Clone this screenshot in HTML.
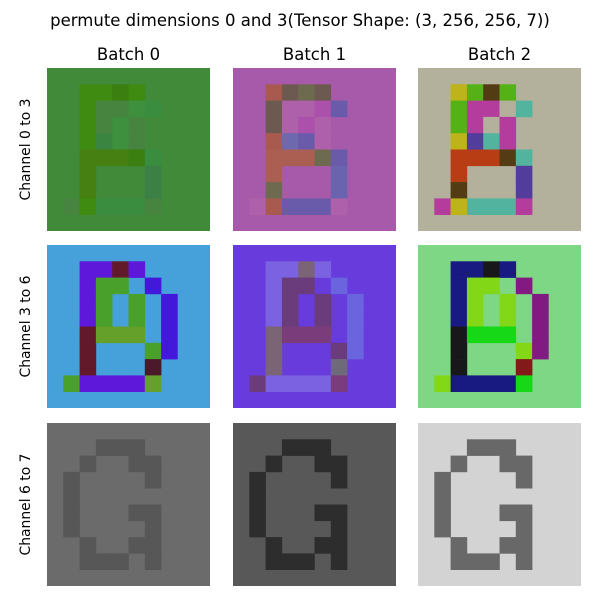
<!DOCTYPE html>
<html><head><meta charset="utf-8"><style>
body{margin:0;background:#fff;}
svg{display:block;font-family:"DejaVu Sans","Liberation Sans",sans-serif;}
</style></head><body>
<svg id="fig" width="600" height="600" viewBox="0 0 600 600">
<rect width="600" height="600" fill="#fff"/>
<text x="300" y="26" text-anchor="middle" font-size="16.5" fill="#000">permute dimensions 0 and 3(Tensor Shape: (3, 256, 256, 7))</text>
<g id="panels"></g>
</svg>
<script>
const colTitles = ["Batch 0","Batch 1","Batch 2"];
const rowTitles = ["Channel 0 to 3","Channel 3 to 6","Channel 6 to 7"];
const shapeB = [
"..........",
"..abcb....",
"..beegf...",
"..bege....",
"..ahme....",
"..iiicf...",
"..i...j...",
"..n...j...",
".eakkke...",
".........."];
const shapeD = [
"..........",
"..VVMV....",
"..VGG.B...",
"..VG.G.B..",
"..VG.G.B..",
"..MLLL.B..",
"..M...GB..",
"..M...D...",
".GVVVVL...",
".........."];
const shapeG = [
"..........",
"...FFF....",
"..F..FF...",
".F....F...",
".F........",
".F...FF...",
".F....F...",
"..F..FF...",
"..FFF.F...",
".........."];
const palettes = [
 [{bg:"#418a3a",a:"#3f8a10",b:"#3f8a10",c:"#3a7f0f",e:"#46843f",g:"#3e8f3e",f:"#3a8c3e",h:"#3a8540",m:"#3e8f3e",i:"#467f12",n:"#467f12",j:"#3d8045",k:"#3a8c3e"},
  {bg:"#a85aaa",a:"#a95a4e",b:"#6c5a50",c:"#6e6a50",e:"#ae60aa",g:"#ab50ab",f:"#6a5aaa",h:"#6e68ae",m:"#6a5aaa",i:"#aa5f52",n:"#6e6a50",j:"#6a64ae",k:"#6a5aaa"},
  {bg:"#b3b19b",a:"#bdb31a",b:"#55b216",c:"#533c14",e:"#b33c9c",g:"#b3b19b",f:"#52b49f",h:"#523c9c",m:"#52b49f",i:"#b83c14",n:"#533c14",j:"#523c9c",k:"#52b49f"}],
 [{bg:"#46a0da",V:"#5e18da",M:"#621a2a",G:"#49a02a",B:"#4418da",L:"#64a02a",D:"#4a1a2a"},
  {bg:"#673bdc",V:"#7a62e0",M:"#7a6476",G:"#6a3c7c",B:"#6a64de",L:"#7a3c7a",D:"#6e6a7a"},
  {bg:"#7ed784",V:"#181a82",M:"#18181a",G:"#82d816",B:"#821a82",L:"#16d816",D:"#821a1a"}],
 [{bg:"#6b6b6b",F:"#575757"},{bg:"#585858",F:"#2d2d2d"},{bg:"#d3d3d3",F:"#686868"}]
];
const shapes=[shapeB,shapeD,shapeG];
const xs=[47,233,418], ys=[68,245,423], W=163, cs=W/10;
const NS="http://www.w3.org/2000/svg";
const g=document.getElementById("panels");
function mk(t,at){const e=document.createElementNS(NS,t);for(const k in at)e.setAttribute(k,at[k]);return e;}
colTitles.forEach((t,i)=>{const e=mk("text",{x:xs[i]+W/2,y:60,"text-anchor":"middle","font-size":"16.5",fill:"#000"});e.textContent=t;


g.appendChild(e);});
rowTitles.forEach((t,i)=>{const cy=ys[i]+W/2;const e=mk("text",{x:30,y:cy,"text-anchor":"middle","font-size":"13.9",fill:"#000",transform:`rotate(-90 30 ${cy})`});e.textContent=t;


g.appendChild(e);});
for(let r=0;r<3;r++)for(let c=0;c<3;c++){
 const pal=palettes[r][c], sh=shapes[r];
 const pg=mk("g",{});
 
 
 pg.appendChild(mk("rect",{x:xs[c],y:ys[r],width:W,height:W,fill:pal.bg}));
 for(let i=0;i<10;i++)for(let j=0;j<10;j++){
  const ch=sh[i][j]; if(ch==='.')continue;
  const col=pal[ch]; if(!col)continue;
  const cell=mk("rect",{x:(xs[c]+j*cs).toFixed(2),y:(ys[r]+i*cs).toFixed(2),width:(cs+0.3).toFixed(2),height:(cs+0.3).toFixed(2),fill:col});
  
  
  pg.appendChild(cell);
 }
 g.appendChild(pg);
}
</script>
</body></html>
